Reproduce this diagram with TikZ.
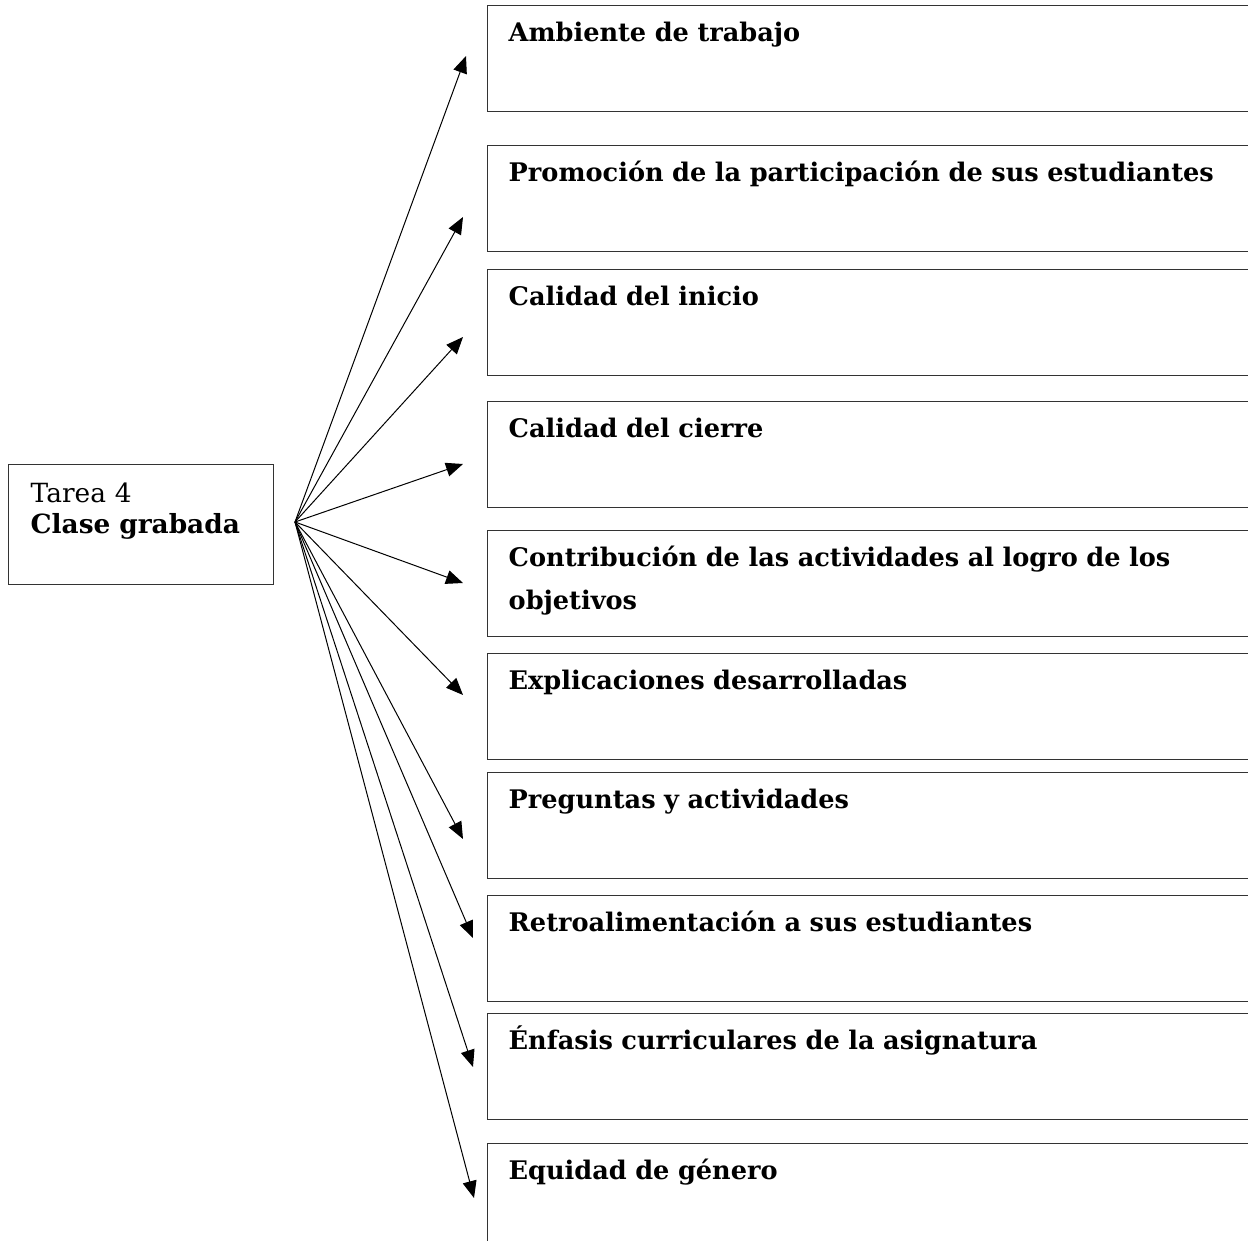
\documentclass[tikz,border=0pt]{standalone}
\usepackage{fontspec}
\setmainfont{DejaVu Serif}
\usetikzlibrary{arrows.meta}

\begin{document}
\begin{tikzpicture}
        [x=0.5pt,y=-0.5pt,
         task/.style={draw=black!80, line width=0.7pt, anchor=north west, align=left,
           text width=110.5pt, inner xsep=11pt, inner ysep=0pt,
           text height=19pt, text depth=41pt,
           font=\fontsize{13.2}{15.5}\selectfont},
         item/.style={draw=black!80, line width=0.7pt, anchor=north west, align=left,
           text width=379pt, inner xsep=10.5pt, inner ysep=0pt,
           text height=18pt, text depth=35pt,
           font=\bfseries\fontsize{12.8}{21.5}\selectfont},
         link/.style={-{Triangle[length=8.5pt,width=7pt]}, line width=0.5pt}]
        \useasboundingbox (0,0) rectangle (1248,1241);
        \clip (0,0) rectangle (1248,1241);
        %\draw[help lines] (0,0) grid (1248,1241);
        \node[task] (tarea) at (8,464) {Tarea 4\\\textbf{Clase grabada}};
        \node[item] (b1) at (487,5) {Ambiente de trabajo};
        \node[item] (b2) at (487,145) {Promoción de la participación de sus estudiantes};
        \node[item] (b3) at (487,269) {Calidad del inicio};
        \node[item] (b4) at (487,401) {Calidad del cierre};
        \node[item] (b5) at (487,530) {Contribución de las actividades al logro de los\\objetivos};
        \node[item] (b6) at (487,653) {Explicaciones desarrolladas};
        \node[item] (b7) at (487,772) {Preguntas y actividades};
        \node[item] (b8) at (487,895) {Retroalimentación a sus estudiantes};
        \node[item] (b9) at (487,1013) {Énfasis curriculares de la asignatura};
        \node[item] (b10) at (487,1143) {Equidad de género};
        \coordinate (hub) at (295,522);
        \coordinate (a1) at (466,56);
        \coordinate (a2) at (463,217);
        \coordinate (a3) at (463,337);
        \coordinate (a4) at (463,464);
        \coordinate (a5) at (463,583);
        \coordinate (a6) at (463,695);
        \coordinate (a7) at (463,839);
        \coordinate (a8) at (473,938);
        \coordinate (a9) at (473,1067);
        \coordinate (a10) at (474,1198);
        \draw[link] (hub) -- (a1);
        \draw[link] (hub) -- (a2);
        \draw[link] (hub) -- (a3);
        \draw[link] (hub) -- (a4);
        \draw[link] (hub) -- (a5);
        \draw[link] (hub) -- (a6);
        \draw[link] (hub) -- (a7);
        \draw[link] (hub) -- (a8);
        \draw[link] (hub) -- (a9);
        \draw[link] (hub) -- (a10);
\end{tikzpicture}
\end{document}
